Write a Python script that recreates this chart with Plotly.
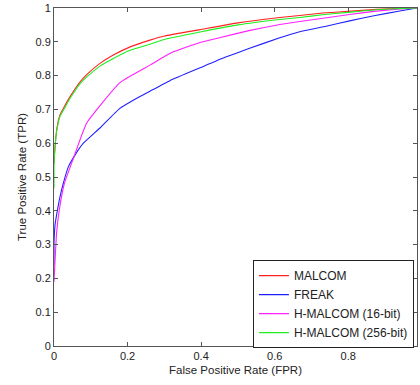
import plotly.graph_objects as go

# MALCOM
malcom_fpr = [0, 0.001, 0.0036, 0.008, 0.016, 0.03, 0.045, 0.07, 0.089, 0.125, 0.16, 0.207, 0.261, 0.3, 0.397, 0.5, 0.614, 0.668, 0.73, 0.8, 0.877, 0.95, 0.987]
malcom_tpr = [0.54, 0.56, 0.60, 0.645, 0.683, 0.712, 0.74, 0.78, 0.803, 0.836, 0.86, 0.885, 0.905, 0.917, 0.936, 0.956, 0.972, 0.978, 0.985, 0.99, 0.996, 0.999, 1.0]

# FREAK
freak_fpr = [0, 0, 0.001, 0.003, 0.009, 0.016, 0.025, 0.039, 0.06, 0.08, 0.125, 0.179, 0.225, 0.261, 0.315, 0.397, 0.465, 0.53, 0.614, 0.668, 0.74, 0.804, 0.87, 0.94, 0.987]
freak_tpr = [0.24, 0.305, 0.33, 0.36, 0.40, 0.44, 0.48, 0.53, 0.57, 0.60, 0.645, 0.703, 0.733, 0.754, 0.785, 0.823, 0.854, 0.88, 0.912, 0.93, 0.946, 0.962, 0.977, 0.991, 1.0]

# H-MALCOM (16-bit)
h16_fpr = [0, 0.002, 0.007, 0.014, 0.028, 0.051, 0.089, 0.18, 0.261, 0.32, 0.397, 0.45, 0.53, 0.614, 0.668, 0.804, 0.87, 0.94, 0.987]
h16_tpr = [0.19, 0.235, 0.334, 0.40, 0.48, 0.55, 0.66, 0.78, 0.831, 0.868, 0.898, 0.912, 0.933, 0.951, 0.96, 0.981, 0.99, 0.997, 1.0]

# H-MALCOM (256-bit)
h256_fpr = [0, 0, 0.001, 0.0036, 0.008, 0.016, 0.03, 0.045, 0.07, 0.089, 0.125, 0.16, 0.207, 0.261, 0.3, 0.397, 0.5, 0.614, 0.668, 0.73, 0.8, 0.877, 0.95, 0.987]
h256_tpr = [0.467, 0.535, 0.56, 0.60, 0.64, 0.678, 0.706, 0.735, 0.775, 0.796, 0.828, 0.85, 0.875, 0.893, 0.907, 0.929, 0.95, 0.966, 0.972, 0.98, 0.987, 0.995, 0.999, 1.0]

x_ticks = [0, 0.2, 0.4, 0.6, 0.8]
x_tick_labels = ["0", "0.2", "0.4", "0.6", "0.8"]
y_ticks = [0, 0.1, 0.2, 0.3, 0.4, 0.5, 0.6, 0.7, 0.8, 0.9, 1]
y_tick_labels = ["0", "0.1", "0.2", "0.3", "0.4", "0.5", "0.6", "0.7", "0.8", "0.9", "1"]

series = [
    ("MALCOM", malcom_fpr, malcom_tpr, "#ff2020"),
    ("FREAK", freak_fpr, freak_tpr, "#2020ff"),
    ("H-MALCOM (16-bit)", h16_fpr, h16_tpr, "#ff20ff"),
    ("H-MALCOM (256-bit)", h256_fpr, h256_tpr, "#20ee20"),
]

fig = go.Figure()
for name, xs, ys, c in series:
    fig.add_trace(go.Scatter(x=xs, y=ys, mode="lines", name=name,
                             line=dict(color=c, width=1.1, shape="spline", smoothing=0.4)))

fam = "Liberation Sans, Arial, sans-serif"
tick_font = dict(family=fam, size=11, color="#222222")
title_font = dict(family=fam, size=11.5, color="#222222")
legend_font = dict(family=fam, size=12, color="#222222")
axis_common = dict(showline=True, linecolor="#555555", linewidth=1, mirror="ticks",
                   ticks="inside", ticklen=4, tickcolor="#555555", showgrid=False,
                   zeroline=False, tickfont=tick_font, automargin=False)

fig.update_layout(
    width=420, height=385,
    margin=dict(l=54, r=3, t=8, b=39),
    paper_bgcolor="white", plot_bgcolor="white",
    font=tick_font,
    xaxis=dict(range=[0, 0.987], tickvals=x_ticks, ticktext=x_tick_labels,
               title=dict(text="False Positive Rate (FPR)", font=title_font, standoff=4),
               **axis_common),
    yaxis=dict(range=[0, 1], tickvals=y_ticks, ticktext=y_tick_labels,
               title=dict(text="True Positive Rate (TPR)", font=title_font, standoff=6),
               **axis_common),
    legend=dict(x=0.548, y=0.254, xanchor="left", yanchor="top",
                bgcolor="white", bordercolor="#222222", borderwidth=1,
                font=legend_font, tracegroupgap=0),
    showlegend=True,
)

fig.write_html("out.html", config={"displayModeBar": False},
               post_script="document.body.style.margin='0';document.body.style.padding='0';")
